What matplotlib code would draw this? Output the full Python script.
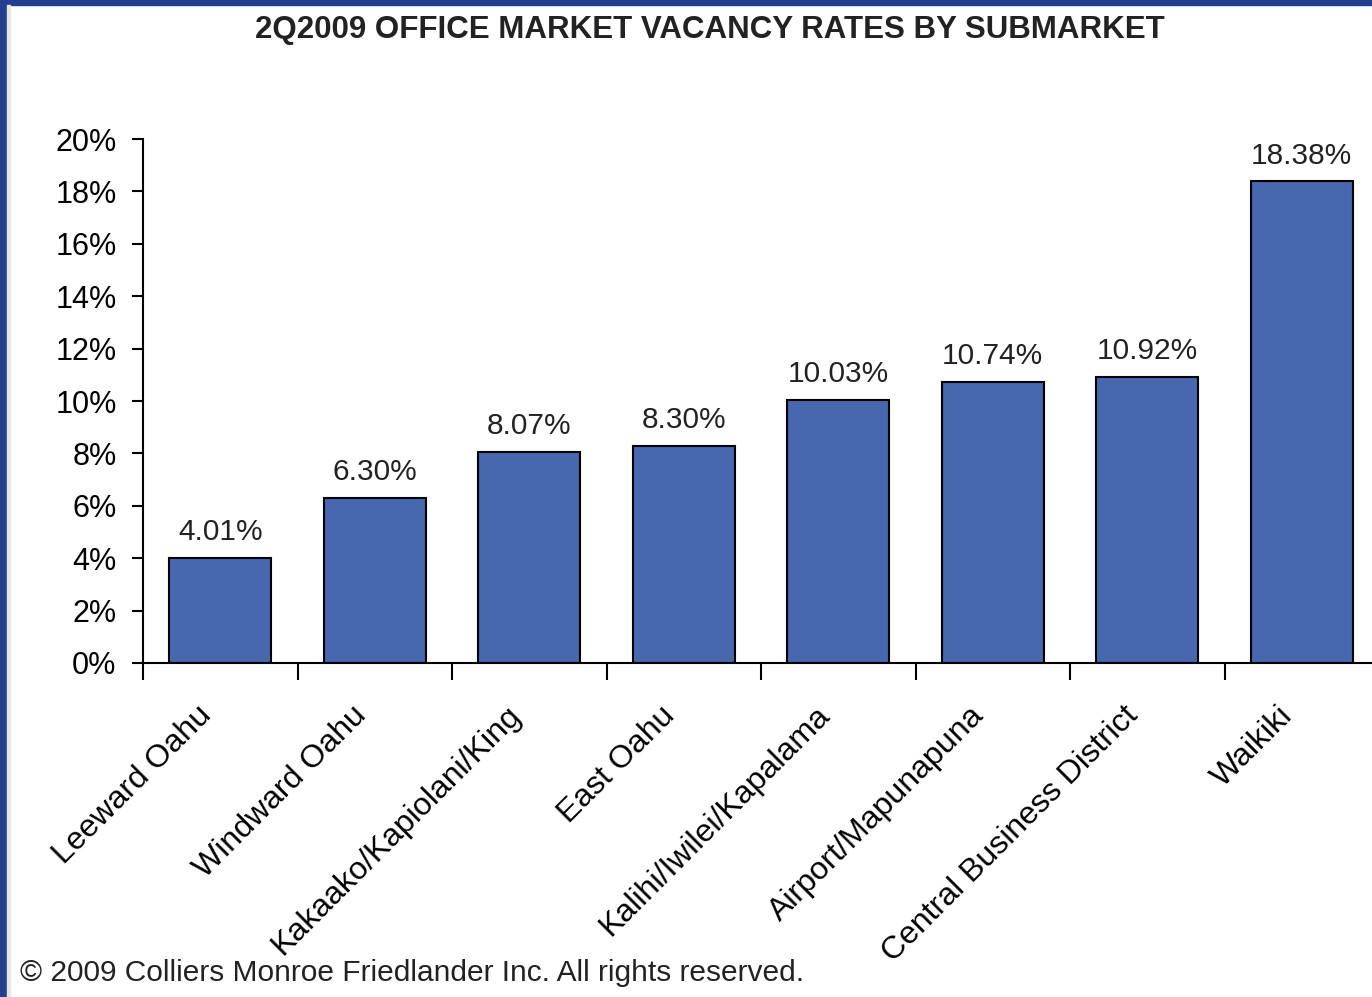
import matplotlib.pyplot as plt
from matplotlib.patches import Rectangle
from matplotlib.transforms import ScaledTranslation

submarkets = ['Leeward Oahu', 'Windward Oahu', 'Kakaako/Kapiolani/King', 'East Oahu',
              'Kalihi/Iwilei/Kapalama', 'Airport/Mapunapuna', 'Central Business District', 'Waikiki']
vacancy = [4.01, 6.30, 8.07, 8.30, 10.03, 10.74, 10.92, 18.38]
yticks = [0, 2, 4, 6, 8, 10, 12, 14, 16, 18, 20]

plt.rcParams['font.family'] = ['Liberation Sans', 'DejaVu Sans']

fig = plt.figure(figsize=(13.72, 9.97), dpi=100)
W, H = 1372, 997

# blue frame at the top and left edge
fig.patches.append(Rectangle((0, 1 - 5 / H), 1, 5 / H, transform=fig.transFigure,
                             color='#243f8f', zorder=0))
fig.patches.append(Rectangle((0, 0), 7 / W, 1, transform=fig.transFigure,
                             color='#243f8f', zorder=0))
fig.patches.append(Rectangle((7 / W, 0), 3 / W, 1 - 5 / H, transform=fig.transFigure,
                             color='#e6e6e6', zorder=0))

ax = fig.add_axes([143 / W, 334 / H, (1379 - 143) / W, (663 - 139) / H])
x = range(len(submarkets))
bars = ax.bar(x, vacancy, width=0.66, color='#4767ae', edgecolor='black', linewidth=1.5)
for xi, v in zip(x, vacancy):
    ax.text(xi, v + 0.45, f'{v:.2f}%', ha='center', va='bottom', fontsize=21.5, color='#222222')

ax.set_xlim(-0.5, len(submarkets) - 0.5)
ax.set_ylim(0, 20)
ax.set_yticks(yticks)
ax.set_yticklabels([f'{t}%' for t in yticks], fontsize=22)
ax.tick_params(axis='y', length=8, width=1.5, pad=11)

ax.set_xticks([i - 0.5 for i in x])
ax.set_xticklabels([])
ax.tick_params(axis='x', length=12, width=1.5)
ax.set_xticks(list(x), minor=True)
ax.set_xticklabels(submarkets, minor=True, rotation=45, ha='right', rotation_mode='anchor',
                   fontsize=23)
ax.tick_params(axis='x', which='minor', length=0, pad=27)
shift = ScaledTranslation(-24 / 100, 0, fig.dpi_scale_trans)
for lbl in ax.get_xticklabels(minor=True):
    lbl.set_transform(lbl.get_transform() + shift)

for s in ['top', 'right']:
    ax.spines[s].set_visible(False)
for s in ['left', 'bottom']:
    ax.spines[s].set_linewidth(1.5)

fig.text(710 / W, 1 - 30 / H, '2Q2009 OFFICE MARKET VACANCY RATES BY SUBMARKET',
         ha='center', va='center', fontsize=22.5, fontweight='bold', color='#222222')
fig.text(20 / W, 1 - 973 / H, '\u00a9 2009 Colliers Monroe Friedlander Inc. All rights reserved.',
         ha='left', va='center', fontsize=21.5, color='#222222')

fig.savefig('out.png', dpi=100)
